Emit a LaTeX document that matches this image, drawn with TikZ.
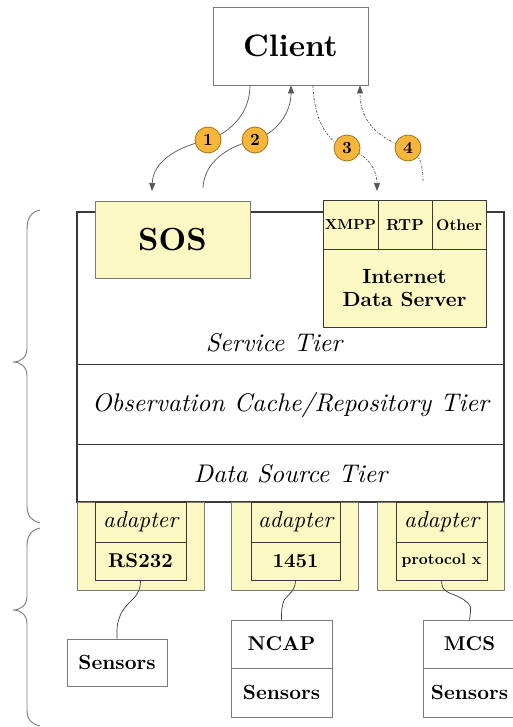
\documentclass[tikz,border=0pt]{standalone}
\usepackage{fontspec}
\setmainfont{lmroman10}[Extension=.otf, UprightFont=*-regular, BoldFont=*-bold, ItalicFont=*-italic, BoldItalicFont=*-bolditalic]
\usetikzlibrary{calc,arrows.meta}
\definecolor{linec}{HTML}{3A3A3A}
\definecolor{boxgray}{HTML}{7A7A7A}
\definecolor{yel}{HTML}{FBF8C4}
\definecolor{orangec}{HTML}{F6B63C}
\definecolor{orangeb}{HTML}{A87410}
\definecolor{arrc}{HTML}{555555}
\newcommand{\fs}[1]{\fontsize{#1}{#1}\selectfont}
\tikzset{
  plainbox/.style={draw=boxgray, line width=0.9pt, fill=white, inner sep=0pt, align=center},
  yelbox/.style={draw=boxgray, line width=0.9pt, fill=yel, inner sep=0pt, align=center},
  cellbox/.style={draw=linec, line width=1pt, fill=yel, inner sep=0pt, align=center},
  mainbox/.style={draw=linec, line width=1.2pt, inner sep=0pt},
  numc/.style={circle, draw=orangeb, line width=0.8pt, fill=orangec, minimum size=26pt, inner sep=0pt, font=\bfseries\fs{17}},
  flow/.style={draw=arrc, line width=0.7pt, -{Triangle[length=8pt,width=6pt]}},
  dflow/.style={flow, dash pattern=on 2.5pt off 1.5pt on 0.8pt off 1.5pt},
  wire/.style={draw=linec, line width=0.7pt},
  brace/.style={draw=boxgray, line width=0.9pt},
  tiertext/.style={font=\itshape\fs{25.5}},
}
\begin{document}
\begin{tikzpicture}[x=1pt,y=-1pt]
\useasboundingbox[fill=white] (0,0) rectangle (513,727);

% main box with tiers
\node[mainbox, minimum width=427pt, minimum height=290pt] (main) at (290.5,357) {};
\draw[draw=linec, line width=1.2pt] ($(main.north west)+(0,153)$) -- ($(main.north east)+(0,153)$);
\draw[draw=linec, line width=1.2pt] ($(main.north west)+(0,233)$) -- ($(main.north east)+(0,233)$);
\node[tiertext] (svc) at (274,343) {Service Tier};
\node[tiertext] (obs) at (290.5,405) {Observation Cache/Repository Tier};
\node[tiertext] (dst) at (290.5,474) {Data Source Tier};

% client
\node[plainbox, minimum width=155pt, minimum height=78pt, font=\bfseries\fs{31}] (client) at (290.5,46) {Client};

% SOS
\node[yelbox, minimum width=155pt, minimum height=77pt, font=\bfseries\fs{32}] (sos) at (172.5,239.5) {SOS};

% internet data server
\node[cellbox, minimum width=55pt, minimum height=48pt, font=\bfseries\fs{14.5}] (xmpp) at (350.5,225) {XMPP};
\node[cellbox, minimum width=54pt, minimum height=48pt, font=\bfseries\fs{16}] (rtp) at (405,225) {RTP};
\node[cellbox, minimum width=54pt, minimum height=48pt, font=\bfseries\fs{15.5}] (other) at (459,225) {Other};
\node[cellbox, minimum width=163pt, minimum height=78pt, font=\bfseries\fs{20.5}] (ids) at (404.5,288) {Internet\\[3pt]Data Server};

% adapters
\foreach \n/\cx/\ix/\iw/\lab/\sz in {1/140.5/140.5/91/RS232/20, 2/294.5/295.5/89/1451/20, 3/440.5/441.5/91/protocol x/15.5}{
  \node[yelbox, minimum width=127pt, minimum height=88pt] (ad\n) at (\cx,546) {};
  \node[cellbox, minimum width=\iw pt, minimum height=40pt, font=\itshape\fs{23}] (adl\n) at (\ix,522) {adapter};
  \node[cellbox, minimum width=\iw pt, minimum height=38pt, font=\bfseries\fs{\sz}] (pr\n) at (\ix,561) {\lab};
}

% sensors
\node[plainbox, minimum width=100pt, minimum height=47pt, font=\bfseries\fs{20.5}] (sens1) at (117,662.5) {Sensors};
\node[plainbox, minimum width=101pt, minimum height=48pt, font=\bfseries\fs{20}] (ncap) at (281.5,644) {NCAP};
\node[plainbox, minimum width=101pt, minimum height=49pt, font=\bfseries\fs{20.5}] (sens2) at (281.5,692.5) {Sensors};
\node[plainbox, minimum width=93pt, minimum height=48pt, font=\bfseries\fs{20}] (mcs) at (469.5,644) {MCS};
\node[plainbox, minimum width=93pt, minimum height=49pt, font=\bfseries\fs{20.5}] (sens3) at (469.5,692.5) {Sensors};

% wires from adapters to devices
\draw[wire] (pr1.south) .. controls ($(pr1.south)+(0,18)$) and ($(sens1.north)+(12,-40)$) .. ($(sens1.north)+(4,-25)$) .. controls ($(sens1.north)+(0,-15)$) .. (sens1.north);
\draw[wire] (pr2.south) .. controls ($(pr2.south)+(0,12)$) and ($(ncap.north)+(4,-24)$) .. ($(ncap.north)+(2,-18)$) .. controls ($(ncap.north)+(0,-10)$) .. (ncap.north);
\draw[wire] (pr3.south) .. controls ($(pr3.south)+(0,14)$) and ($(mcs.north)+(-18,-28)$) .. ($(mcs.north)+(-6,-20)$) .. controls ($(mcs.north)+(2,-14)$) .. (mcs.north);

% request / response arrows
\coordinate (a1s) at ($(client.south)+(-40.5,0)$);
\coordinate (a2e) at ($(client.south)+(0.5,0)$);
\coordinate (a3s) at ($(client.south)+(22.5,0)$);
\coordinate (a4e) at ($(client.south)+(69.5,0)$);
\coordinate (a1e) at (152,191);
\coordinate (a2s) at (203,188);
\coordinate (a3e) at (377,191);
\coordinate (a4s) at (423,181);
\coordinate (p1) at (208,140);
\coordinate (p2) at (255,140);
\coordinate (p3) at (347,148);
\coordinate (p4) at (408,148);

\draw[flow] (a1s) .. controls (250,112) and (232,132) .. (p1) .. controls (180,146) and (153,160) .. (a1e);
\draw[flow] (a2s) .. controls (204,162) and (228,146) .. (p2) .. controls (278,132) and (291,112) .. (a2e);
\draw[dflow] (a3s) .. controls (314,118) and (326,142) .. (p3) .. controls (366,154) and (377,168) .. (a3e);
\draw[dflow] (a4s) .. controls (423,166) and (420,152) .. (p4) .. controls (382,140) and (360,124) .. (a4e);

\node[numc] (n1) at (p1) {1};
\node[numc] (n2) at (p2) {2};
\node[numc] (n3) at (p3) {3};
\node[numc] (n4) at (p4) {4};

% braces on the left
\draw[brace] (40,210) .. controls (31,212) and (27,218) .. (27,230) -- (27,348) .. controls (27,357) and (21,362) .. (13,362) .. controls (21,362) and (27,367) .. (27,376) -- (27,506) .. controls (27,516) and (32,521) .. (40,523);
\draw[brace] (40,528) .. controls (31,530) and (27,536) .. (27,546) -- (27,596) .. controls (27,605) and (21,610) .. (13,610) .. controls (21,610) and (27,615) .. (27,624) -- (27,710) .. controls (27,720) and (32,724) .. (40,726);
\end{tikzpicture}
\end{document}
